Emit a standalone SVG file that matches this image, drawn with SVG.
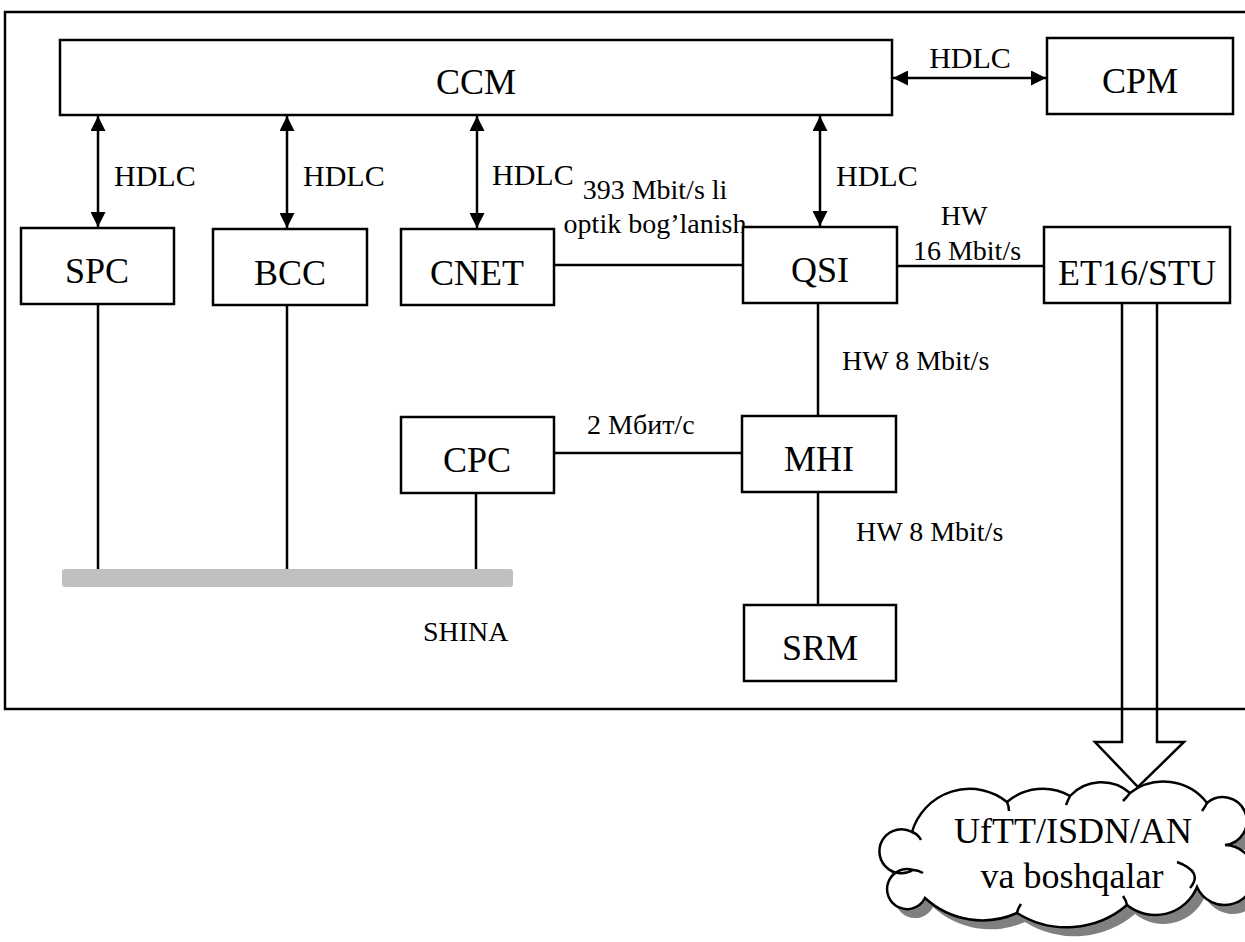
<svg xmlns="http://www.w3.org/2000/svg" width="1245" height="942" viewBox="0 0 1245 942" font-family="'Liberation Serif', 'DejaVu Serif', serif">
<style>
.box{fill:#fff;stroke:#000;stroke-width:2.5}
.ln{fill:none;stroke:#000;stroke-width:2.5}
text{font-family:'Liberation Serif','DejaVu Serif',serif;fill:#000}
.big{font-size:36px;text-anchor:middle}
.hd{font-size:30px}
.sm{font-size:28px}
</style>
<defs>
<marker id="ah" viewBox="0 0 10 10" refX="10" refY="5" markerUnits="userSpaceOnUse" markerWidth="15" markerHeight="15" orient="auto-start-reverse">
<path d="M0,0 L10,5 L0,10 z" fill="#000"/>
</marker>
<path id="cloudShape" d="M912,832 A60,60 0 0,1 1007,802 A55,55 0 0,1 1070,796 A43,43 0 0,1 1130,793 A55,55 0 0,1 1207,803 A24,24 0 1,1 1225,845 A30,30 0 1,1 1197,887 A45,45 0 0,1 1127,905 A93,93 0 0,1 1017,913 A85,85 0 0,1 925,898 A20,20 0 1,1 913,870 A22,22 0 1,1 912,832 Z"/>
</defs>
<rect id="frame" x="5" y="12" width="1265" height="697" class="ln"/>
<g id="connectors">
<line x1="98" y1="116" x2="98" y2="227" class="ln" marker-start="url(#ah)" marker-end="url(#ah)"/>
<line x1="287" y1="116" x2="287" y2="228" class="ln" marker-start="url(#ah)" marker-end="url(#ah)"/>
<line x1="477" y1="116" x2="477" y2="228" class="ln" marker-start="url(#ah)" marker-end="url(#ah)"/>
<line x1="820" y1="116" x2="820" y2="226" class="ln" marker-start="url(#ah)" marker-end="url(#ah)"/>
<line x1="893" y1="78" x2="1046" y2="78" class="ln" marker-start="url(#ah)" marker-end="url(#ah)"/>
<line x1="554" y1="265" x2="742" y2="265" class="ln"/>
<line x1="897" y1="266" x2="1044" y2="266" class="ln"/>
<line x1="818" y1="303" x2="818" y2="416" class="ln"/>
<line x1="554" y1="453" x2="742" y2="453" class="ln"/>
<line x1="818" y1="492" x2="818" y2="605" class="ln"/>
<line x1="98" y1="304" x2="98" y2="569" class="ln"/>
<line x1="287" y1="305" x2="287" y2="569" class="ln"/>
<line x1="476" y1="493" x2="476" y2="569" class="ln"/>
<path d="M1122,304 L1122,742 L1095,742 L1138,787 L1184,742 L1157,742 L1157,304" class="ln"/>
<text class="hd" x="114" y="186">HDLC</text>
<text class="hd" x="303" y="186">HDLC</text>
<text class="hd" x="492" y="185">HDLC</text>
<text class="hd" x="836" y="186">HDLC</text>
<text class="hd" x="970" y="68" text-anchor="middle">HDLC</text>
<text class="sm" x="655" y="199" text-anchor="middle">393 Mbit/s li</text>
<text class="sm" x="655" y="233" text-anchor="middle">optik bog’lanish</text>
<text class="sm" x="964" y="225" text-anchor="middle">HW</text>
<text class="sm" x="967" y="260" text-anchor="middle">16 Mbit/s</text>
<text class="sm" x="842" y="370">HW 8 Mbit/s</text>
<text class="sm" x="587" y="434">2 Мбит/с</text>
<text class="sm" x="856" y="541">HW 8 Mbit/s</text>
</g>
<g id="bus">
<rect x="62" y="569" width="451" height="18" rx="3" fill="#c0c0c0"/>
<text class="sm" x="423" y="641">SHINA</text>
</g>
<g id="CCM"><rect x="60" y="40" width="832" height="75" class="box"/><text class="big" x="476" y="94">CCM</text></g>
<g id="CPM"><rect x="1047" y="38" width="186" height="76" class="box"/><text class="big" x="1140" y="93">CPM</text></g>
<g id="SPC"><rect x="21" y="228" width="153" height="76" class="box"/><text class="big" x="97" y="283">SPC</text></g>
<g id="BCC"><rect x="213" y="229" width="154" height="76" class="box"/><text class="big" x="290" y="285">BCC</text></g>
<g id="CNET"><rect x="401" y="229" width="153" height="76" class="box"/><text class="big" x="477" y="285">CNET</text></g>
<g id="QSI"><rect x="743" y="227" width="154" height="76" class="box"/><text class="big" x="820" y="282">QSI</text></g>
<g id="ET16STU"><rect x="1044" y="227" width="186" height="76" class="box"/><text class="big" x="1137" y="285">ET16/STU</text></g>
<g id="CPC"><rect x="401" y="417" width="153" height="76" class="box"/><text class="big" x="477" y="472">CPC</text></g>
<g id="MHI"><rect x="742" y="416" width="154" height="76" class="box"/><text class="big" x="819" y="471">MHI</text></g>
<g id="SRM"><rect x="744" y="605" width="152" height="76" class="box"/><text class="big" x="820" y="660">SRM</text></g>
<g id="cloud">
<use href="#cloudShape" transform="translate(8,9)" fill="#808080"/>
<use href="#cloudShape" fill="#fff" stroke="#000" stroke-width="2.5"/>
<path class="ln" d="M912,832 Q918,834 921,840 M1007,802 Q1009,806 1009,811 M1070,796 Q1068,800 1066,805 M1130,793 Q1127,797 1123,801 M1207,803 Q1205,807 1202,811 M1177,862 Q1204,872 1190,888 M1127,905 Q1126,900 1123,896 M1017,913 Q1018,908 1021,904 M913,870 Q918,870 923,873"/>
<text class="big" x="1073" y="843">UfTT/ISDN/AN</text>
<text class="big" x="1072" y="888">va boshqalar</text>
</g>
</svg>
